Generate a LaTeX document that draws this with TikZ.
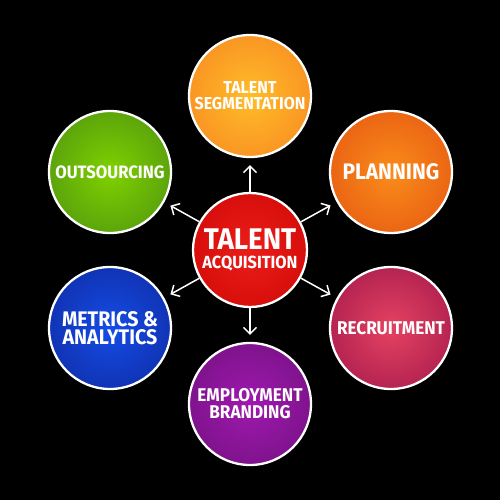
\documentclass[tikz,border=0pt]{standalone}
\usepackage{fontspec}
\setmainfont{Fira Sans}
\newfontfamily\handfont[FakeStretch=0.93]{Fira Sans}
\newcommand{\handsize}[2]{\handfont\bfseries\fontsize{#1}{#2}\selectfont}
\usetikzlibrary{arrows.meta}
\definecolor{glowin}{rgb}{1, 1, 1}
\definecolor{glowout}{rgb}{0, 0, 0}
\pgfdeclareradialshading[glowin,glowout]{glow}{\pgfpointorigin}{color(0bp)=(glowin); color(46bp)=(glowout); color(50bp)=(glowout)}
\tikzset{glowfill/.style 2 args = {shading=glow, shade,
                                   /utils/exec={\colorlet{glowin}{#1}\colorlet{glowout}{#2}}}}
\tikzset{bubble/.style = {circle, draw=white, line width=1.3pt, minimum size=2.44cm, inner sep=0,
                          text=white, align=center, font=\handsize{10}{9}}}
\tikzset{spoke/.style = {draw=white, line width=0.85pt, -{Straight Barb[length=1.3mm,width=2.6mm]},
                         shorten >=0.14cm}}
\definecolor{mredin}{rgb}{0.92, 0.12, 0.1}
\definecolor{mredout}{rgb}{0.78, 0, 0}
\definecolor{mamberin}{rgb}{1, 0.74, 0.16}
\definecolor{mamberout}{rgb}{0.96, 0.46, 0.12}
\definecolor{morangein}{rgb}{0.98, 0.55, 0.1}
\definecolor{morangeout}{rgb}{0.87, 0.27, 0.06}
\definecolor{mgreenin}{rgb}{0.5, 0.82, 0}
\definecolor{mgreenout}{rgb}{0.24, 0.5, 0.08}
\definecolor{mbluein}{rgb}{0.08, 0.3, 0.9}
\definecolor{mblueout}{rgb}{0.05, 0.12, 0.55}
\definecolor{mrosein}{rgb}{0.9, 0.26, 0.38}
\definecolor{mroseout}{rgb}{0.55, 0.04, 0.27}
\definecolor{mpurplein}{rgb}{0.62, 0.1, 0.68}
\definecolor{mpurpleout}{rgb}{0.4, 0.05, 0.45}

\begin{document}
\begin{tikzpicture}[x=0.02cm, y=-0.02cm]
    \fill [black] (0, 0) rectangle (500, 500);

    \node [bubble, minimum size=2.28cm, glowfill={mredin}{mredout}, font=\handsize{10}{11}] (acq) at (250, 250)
      {{\fontsize{17}{17}\selectfont TALENT}\\ACQUISITION};

    \node [bubble, glowfill={mamberin}{mamberout}, font=\handsize{9.8}{9.2}] (seg) at (250, 96)
      {TALENT\\SEGMENTATION};
    \node [bubble, glowfill={morangein}{morangeout}, font=\handsize{12.8}{12}] (plan) at (391, 172)
      {PLANNING};
    \node [bubble, glowfill={mrosein}{mroseout}, font=\handsize{10.5}{10}] (recr) at (391, 328)
      {RECRUITMENT};
    \node [bubble, glowfill={mpurplein}{mpurpleout}, font=\handsize{10.5}{9.6}] (brand) at (250, 404)
      {EMPLOYMENT\\BRANDING};
    \node [bubble, glowfill={mbluein}{mblueout}, font=\handsize{12}{10.5}] (metr) at (110, 328)
      {METRICS \&\\ANALYTICS};
    \node [bubble, glowfill={mgreenin}{mgreenout}, font=\handsize{10.2}{10}] (outs) at (110, 172)
      {OUTSOURCING};

    \draw [spoke] (acq) -- (seg);
    \draw [spoke] (acq) -- (plan);
    \draw [spoke] (acq) -- (recr);
    \draw [spoke] (acq) -- (brand);
    \draw [spoke] (acq) -- (metr);
    \draw [spoke] (acq) -- (outs);
  \end{tikzpicture}
\end{document}
